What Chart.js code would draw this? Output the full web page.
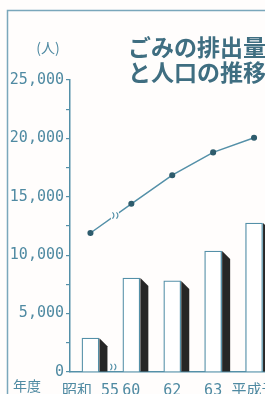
<!DOCTYPE html>
<html>
<head>
<meta charset="utf-8">
<script src="https://cdn.jsdelivr.net/npm/chart.js@4"></script>
<style>
  html, body { margin: 0; padding: 0; background: #fff; overflow: hidden; }
</style>
</head>
<body>
<canvas id="chart" width="280" height="394"></canvas>
<script>
// 年度
const years = ["昭和 55", "60", "62", "63", "平成元"];
// ごみの排出量（棒）
const gomi = [2900, 8050, 7800, 10350, 12750];
// 人口（折れ線）
const jinko = [11900, 14400, 16850, 18800, 20050];
// 目盛りラベル
const yTicks = [0, 5000, 10000, 15000, 20000, 25000];

const blue = "#5490a8";
const textBlue = "#4f8aa2";
const monoFont = "'DejaVu Sans Mono', 'Noto Sans CJK JP', monospace";

const decor = {
  id: "decor",
  beforeDraw(chart) {
    const c = chart.ctx;
    c.save();
    c.fillStyle = "#fffdfc";
    c.fillRect(0, 0, chart.width, chart.height);
    // 枠
    c.strokeStyle = "#7aa7bb";
    c.lineWidth = 1.5;
    c.beginPath();
    c.moveTo(7.5, chart.height);
    c.lineTo(7.5, 10.5);
    c.lineTo(chart.width, 10.5);
    c.stroke();
    c.restore();
  },
  afterDatasetDraw(chart, args) {
    if (args.index !== 0) return;
    // 棒の影
    const c = chart.ctx;
    c.save();
    c.fillStyle = "#262626";
    args.meta.data.forEach((bar) => {
      const r = bar.x + bar.width / 2 + 0.5;
      c.beginPath();
      c.moveTo(r, bar.y);
      c.lineTo(r + 8, bar.y + 8);
      c.lineTo(r + 8, bar.base);
      c.lineTo(r, bar.base);
      c.closePath();
      c.fill();
    });
    c.restore();
  },
  afterDraw(chart) {
    const c = chart.ctx;
    const x = chart.scales.x;
    const y = chart.scales.y;
    c.save();
    // タイトル
    c.fillStyle = "#3f6e81";
    c.font = "bold 23px 'Noto Sans CJK JP'";
    c.textBaseline = "middle";
    c.textAlign = "left";
    c.fillText("ごみの排出量", 128, 47);
    c.fillText("と人口の推移", 128, 72);
    // 単位・軸名
    c.fillStyle = textBlue;
    c.font = "14px 'Noto Sans CJK JP'";
    c.textAlign = "center";
    c.fillText("(人)", 48, 48);
    c.fillText("年度", 27, 386);
    // 省略記号
    const bx = (x.getPixelForValue(0) + x.getPixelForValue(1)) / 2 + 4;
    const marks = [
      [bx, y.getPixelForValue((jinko[0] + jinko[1]) / 2 + 250)],
      [bx - 2, y.bottom - 5],
    ];
    c.strokeStyle = blue;
    c.lineWidth = 1.2;
    marks.forEach(([mx, my]) => {
      c.fillStyle = "#fffdfc";
      c.fillRect(mx - 4, my - 4, 8, 8);
      for (let k = 0; k < 2; k++) {
        c.beginPath();
        c.arc(mx - 5 + k * 4, my, 4, -0.9, 0.9);
        c.stroke();
      }
    });
    c.restore();
  },
};

new Chart(document.getElementById("chart"), {
  data: {
    labels: years,
    datasets: [
      {
        type: "bar",
        label: "ごみの排出量",
        data: gomi,
        backgroundColor: "#ffffff",
        borderColor: blue,
        borderWidth: 1.3,
        barThickness: 17,
        order: 2,
      },
      {
        type: "line",
        label: "人口",
        data: jinko,
        borderColor: blue,
        borderWidth: 1.5,
        pointRadius: 2.3,
        pointBackgroundColor: "#2e5c6d",
        pointBorderColor: "#2e5c6d",
        tension: 0,
        order: 1,
      },
    ],
  },
  options: {
    responsive: false,
    animation: false,
    layout: { padding: { top: 80, left: 8, right: 5, bottom: 0 } },
    plugins: {
      legend: { display: false },
      tooltip: { enabled: false },
    },
    scales: {
      x: {
        type: "category",
        offset: true,
        grid: { display: false },
        border: { color: blue, width: 1.5 },
        ticks: {
          color: textBlue,
          font: { family: monoFont, size: 15 },
          padding: 2,
          maxRotation: 0,
          autoSkip: false,
        },
        afterFit(s) { s.height = 22; },
      },
      y: {
        min: 0,
        max: 25000,
        grid: { drawOnChartArea: false, tickLength: 4, color: blue, lineWidth: 1.2 },
        border: { color: blue, width: 1.5 },
        ticks: {
          stepSize: 2500,
          autoSkip: false,
          color: textBlue,
          padding: 2,
          font: { family: monoFont, size: 15 },
          callback: (v) => (yTicks.includes(v) ? v.toLocaleString("en-US") : ""),
        },
        afterFit(s) { s.width = 62; },
      },
    },
  },
  plugins: [decor],
});
</script>
</body>
</html>
